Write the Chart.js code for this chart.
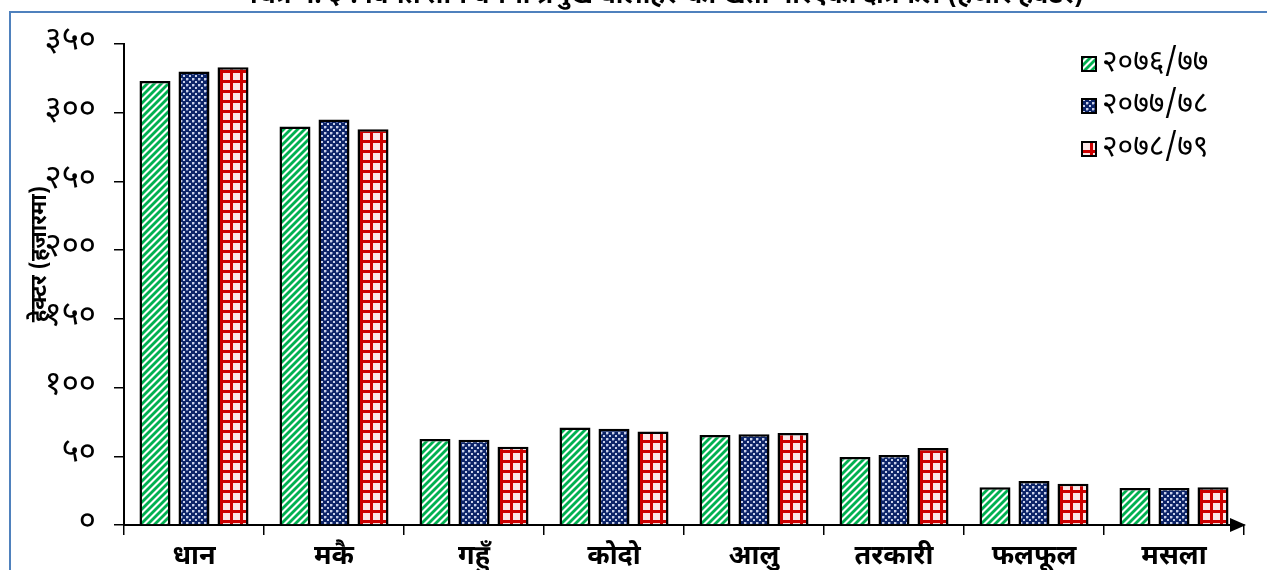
<!DOCTYPE html>
<html>
<head>
<meta charset="utf-8">
<script src="https://cdn.jsdelivr.net/npm/chart.js@4.4.0/dist/chart.umd.min.js"></script>
<style>
  html, body { margin: 0; padding: 0; background: #fff; overflow: hidden; }
  #wrap { position: relative; width: 1267px; height: 570px; overflow: hidden; }
  #frame { position: absolute; left: 9px; top: 11px; width: 1400px; height: 700px;
           border-left: 2px solid #4f81bd; border-top: 2px solid #4f81bd; pointer-events: none; }
  canvas { position: absolute; left: 0; top: 0; }
</style>
</head>
<body>
<div id="wrap">
  <canvas id="c" width="1267" height="570"></canvas>
  <div id="frame"></div>
</div>
<script>
const categories = ['धान', 'मकै', 'गहुँ', 'कोदो', 'आलु', 'तरकारी', 'फलफूल', 'मसला'];
const seriesLabels = ['२०७६/७७', '२०७७/७८', '२०७८/७९'];
const values7677 = [323, 290, 62.5, 71, 65.5, 49.5, 27.5, 27];
const values7778 = [330, 295, 62, 70, 66, 51, 32, 27];
const values7879 = [333, 288, 57, 68, 67, 56, 30, 27.5];
const yTicks = [0, 50, 100, 150, 200, 250, 300, 350];
const titleText = 'चित्र नं. ३ : विगत तीन वर्षमा प्रमुख बालीहरूको खेती गरिएको क्षेत्रफल (हजार हेक्टर)';
const yTitle = 'हेक्टर (हजारमा)';

const devDigits = '०१२३४५६७८९';
const toDev = s => String(s).replace(/[0-9]/g, d => devDigits[+d]);

const FONT = '"Noto Sans Devanagari", "Noto Sans", "Lohit Devanagari", sans-serif';

function makePattern(kind) {
  const t = document.createElement('canvas');
  const g = t.getContext('2d');
  if (kind === 'green') {
    t.width = 7; t.height = 7;
    g.fillStyle = '#ffffff'; g.fillRect(0, 0, 7, 7);
    g.strokeStyle = '#00b050'; g.lineWidth = 2.8;
    for (let o = -7; o <= 7; o += 7) {
      g.beginPath(); g.moveTo(o - 1, 8); g.lineTo(o + 8, -1); g.stroke();
    }
  } else if (kind === 'blue') {
    t.width = 6; t.height = 6;
    g.fillStyle = '#0c2468'; g.fillRect(0, 0, 6, 6);
    g.fillStyle = '#c8d0e8';
    g.fillRect(0, 0, 2, 2); g.fillRect(3, 3, 2, 2);
    g.fillStyle = '#5a6aa0';
    g.fillRect(2, 0, 1, 2); g.fillRect(0, 2, 2, 1);
  } else {
    t.width = 10; t.height = 10;
    g.fillStyle = '#fbe6e7'; g.fillRect(0, 0, 10, 10);
    g.fillStyle = '#cc0000';
    g.fillRect(0, 0, 3, 10); g.fillRect(0, 0, 10, 3);
  }
  return document.getElementById('c').getContext('2d').createPattern(t, 'repeat');
}
const patGreen = makePattern('green');
const patBlue = makePattern('blue');
const patRed = makePattern('red');

const decor = {
  id: 'decor',
  afterDraw(chart) {
    const ctx = chart.ctx;
    const ca = chart.chartArea;
    ctx.save();
    // title (cut off at the top)
    ctx.fillStyle = '#000';
    ctx.font = 'bold 26px ' + FONT;
    ctx.textAlign = 'center';
    ctx.textBaseline = 'alphabetic';
    ctx.fillText(titleText, 667, 3);
    // y axis title
    ctx.save();
    ctx.translate(42, 254);
    ctx.rotate(-Math.PI / 2);
    ctx.font = 'bold 22px ' + FONT;
    ctx.textAlign = 'center';
    ctx.textBaseline = 'middle';
    ctx.fillText(yTitle, 0, 0);
    ctx.restore();
    // arrow at x axis end
    const y0 = chart.scales.y.getPixelForValue(0);
    ctx.fillStyle = '#000';
    ctx.beginPath();
    ctx.moveTo(ca.right - 14, y0 - 7);
    ctx.lineTo(ca.right + 2, y0);
    ctx.lineTo(ca.right - 14, y0 + 7);
    ctx.closePath();
    ctx.fill();
    // legend
    const items = chart.data.datasets;
    const lx = 1089, ly = [64, 106, 149];
    ctx.font = '30px ' + FONT;
    ctx.textAlign = 'left';
    ctx.textBaseline = 'middle';
    items.forEach((ds, i) => {
      ctx.fillStyle = ds.backgroundColor;
      ctx.fillRect(lx - 7, ly[i] - 7, 14, 14);
      ctx.strokeStyle = '#000';
      ctx.lineWidth = 2;
      ctx.strokeRect(lx - 7, ly[i] - 7, 14, 14);
      ctx.fillStyle = '#000';
      ctx.fillText(ds.label, lx + 13, ly[i] + 1);
    });
    ctx.restore();
  }
};

new Chart(document.getElementById('c'), {
  type: 'bar',
  data: {
    labels: categories,
    datasets: [
      { label: seriesLabels[0], data: values7677, backgroundColor: patGreen },
      { label: seriesLabels[1], data: values7778, backgroundColor: patBlue },
      { label: seriesLabels[2], data: values7879, backgroundColor: patRed }
    ].map(d => Object.assign(d, { borderColor: '#000', borderWidth: 2.5, borderSkipped: 'start' }))
  },
  options: {
    responsive: false,
    animation: false,
    devicePixelRatio: 1,
    layout: { padding: { top: 44, right: 23, left: 0, bottom: 0 } },
    datasets: { bar: { categoryPercentage: 0.836, barPercentage: 0.795 } },
    plugins: { legend: { display: false }, tooltip: { enabled: false }, title: { display: false } },
    scales: {
      x: {
        grid: { display: true, drawOnChartArea: false, drawTicks: true, tickLength: 10, color: '#000', lineWidth: 1.5, offset: true },
        border: { display: true, color: '#000', width: 2 },
        ticks: { color: '#000', font: { family: FONT, size: 27, weight: 'bold' }, padding: 8, maxRotation: 0 },
        afterFit(s) { s.height = 45; }
      },
      y: {
        min: 0, max: 350,
        afterBuildTicks(s) { s.ticks = yTicks.map(v => ({ value: v })); },
        grid: { display: true, drawOnChartArea: false, drawTicks: true, tickLength: 10, color: '#000', lineWidth: 1.5 },
        border: { display: true, color: '#000', width: 2 },
        ticks: { color: '#000', font: { family: FONT, size: 33 }, padding: 18, callback: v => toDev(v) },
        afterFit(s) { s.width = 124; }
      }
    }
  },
  plugins: [decor]
});
</script>
</body>
</html>
